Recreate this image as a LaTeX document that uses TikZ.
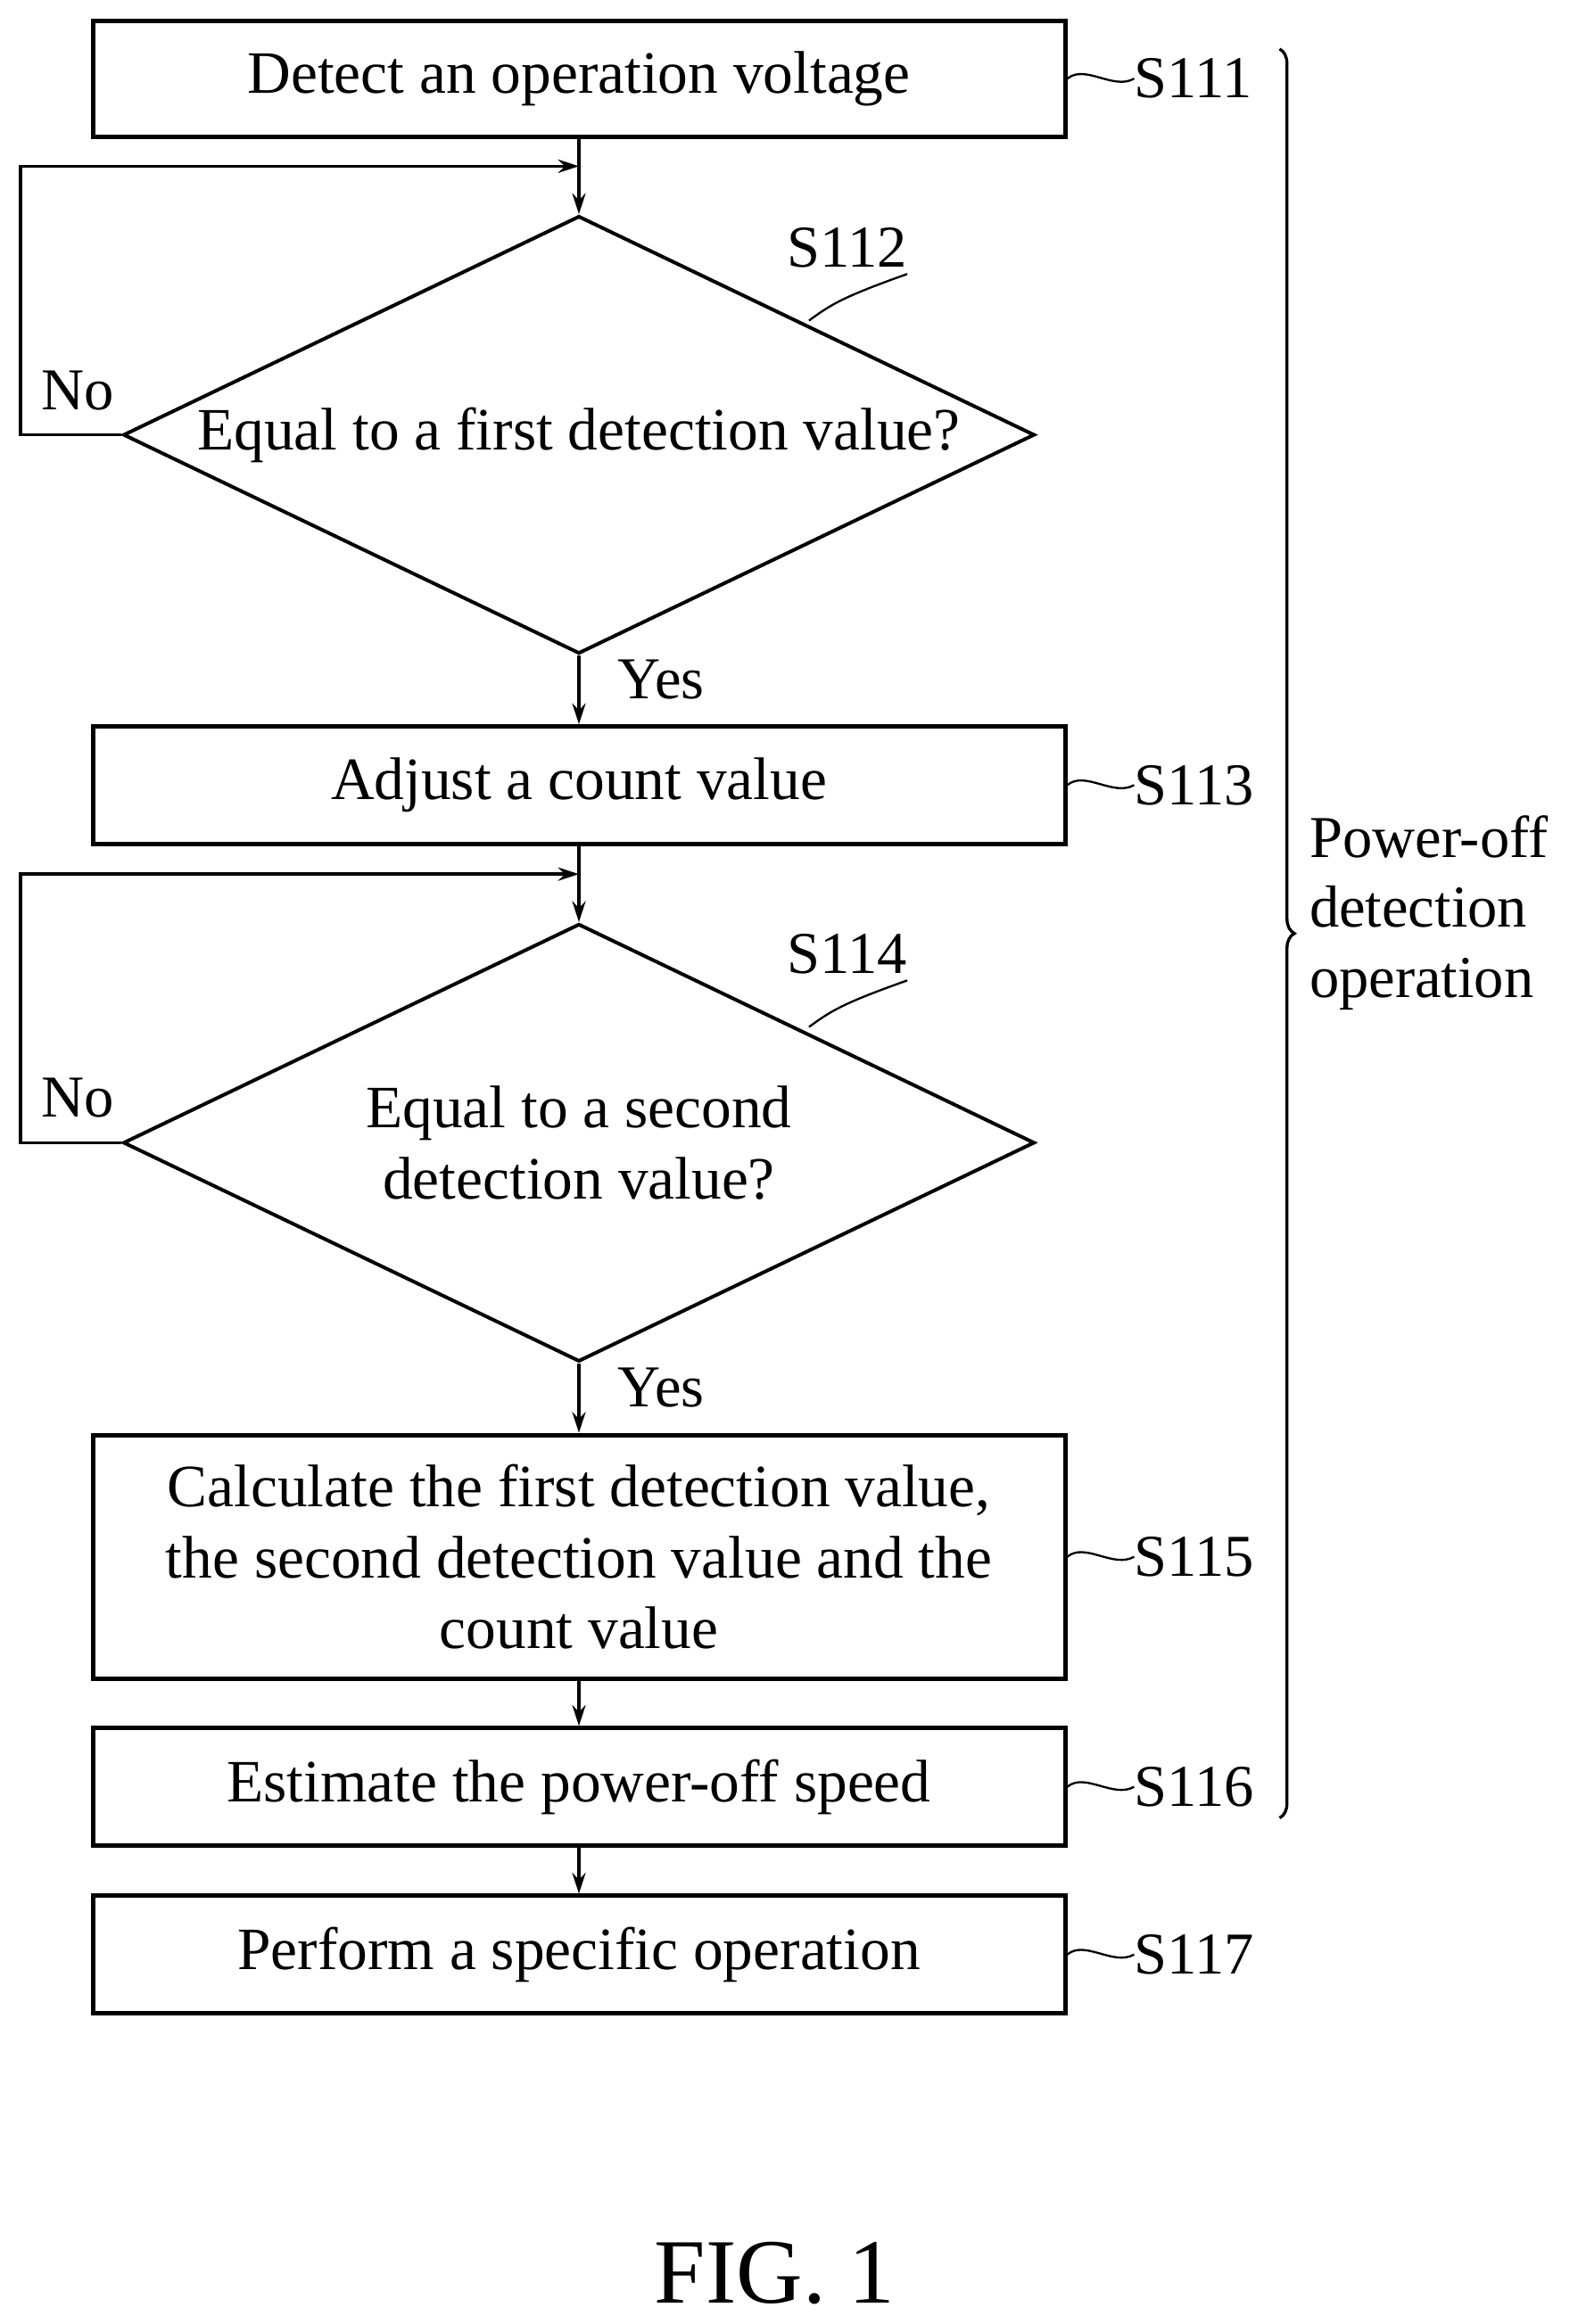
\documentclass[tikz,border=0pt]{standalone}
\usepackage{fontspec}
\setmainfont{Liberation Serif}
\usetikzlibrary{shapes.geometric,arrows.meta,decorations.pathreplacing}
\begin{document}
\begin{tikzpicture}[x=1pt,y=-1pt,
  box/.style={draw,line width=3pt,minimum width=655pt,align=center,font=\fontsize{40.5}{48}\selectfont,inner sep=0pt},
  dia/.style={draw,line width=2.4pt,diamond,minimum width=614pt,minimum height=295pt,aspect=2.08,inner sep=0pt,align=center,font=\fontsize{40.5}{48}\selectfont},
  lab/.style={font=\fontsize{40}{47}\selectfont,anchor=west,inner sep=0pt},
  arr/.style={line width=2.2pt,-{Stealth[length=14pt,width=9pt]}},
  ln/.style={line width=2.2pt}]
\useasboundingbox (0,0) rectangle (1068,1566);
\node[box,minimum height=78pt] (s1) at (390,53) {Detect an operation voltage};
\node[dia] (d1) at (390,293) {Equal to a first detection value?};
\node[box,minimum height=79pt] (s3) at (390,529) {Adjust a count value};
\node[dia] (d2) at (390,770) {Equal to a second\\detection value?};
\node[box,minimum height=164pt] (s5) at (390,1049) {Calculate the first detection value,\\the second detection value and the\\count value};
\node[box,minimum height=79pt] (s6) at (390,1204) {Estimate the power-off speed};
\node[box,minimum height=79pt] (s7) at (390,1317) {Perform a specific operation};
\coordinate (j1) at (390,112);
\coordinate (j2) at (390,589);
\draw[ln] (s1.south) -- (j1);
\draw[arr] (j1) -- (d1.north);
\draw[arr] (d1.west) -- (14,293) -- (14,112) -- (j1);
\draw[arr] (d1.south) -- (s3.north);
\draw[ln] (s3.south) -- (j2);
\draw[arr] (j2) -- (d2.north);
\draw[arr] (d2.west) -- (14,770) -- (14,589) -- (j2);
\draw[arr] (d2.south) -- (s5.north);
\draw[arr] (s5.south) -- (s6.north);
\draw[arr] (s6.south) -- (s7.north);
\node[lab] at (28,263) (no1) {No};
\node[lab] at (28,740) (no2) {No};
\node[lab] at (416,458) (y1) {Yes};
\node[lab] at (416,935) (y2) {Yes};
\foreach \n/\b/\t in {l1/s1/S111,l3/s3/S113,l5/s5/S115,l6/s6/S116,l7/s7/S117}{
  \node[lab] (\n) at ([xshift=45pt]\b.east) {\t};
  \draw[line width=1.4pt] (\b.east) .. controls ++(12,-10) and ++(-14,8) .. (\n.west);
}
\node[lab] (l2) at (530,167) {S112};
\node[lab] (l4) at (530,643) {S114};
\coordinate (c2) at (545,216);
\coordinate (c4) at (545,692);
\draw[line width=1.4pt] (c2) .. controls (560,205) and (568,200) .. ([yshift=-4pt]l2.south east);
\draw[line width=1.4pt] (c4) .. controls (560,681) and (568,676) .. ([yshift=-4pt]l4.south east);
\draw[line width=2pt,decorate,decoration={brace,amplitude=10pt}] (862,33) -- (862,1225);
\node[lab,align=left] (br) at (882,615) {Power-off\\detection\\operation};
\node[font=\fontsize{62}{70}\selectfont] (fig) at (522,1532) {FIG. 1};
\end{tikzpicture}
\end{document}
